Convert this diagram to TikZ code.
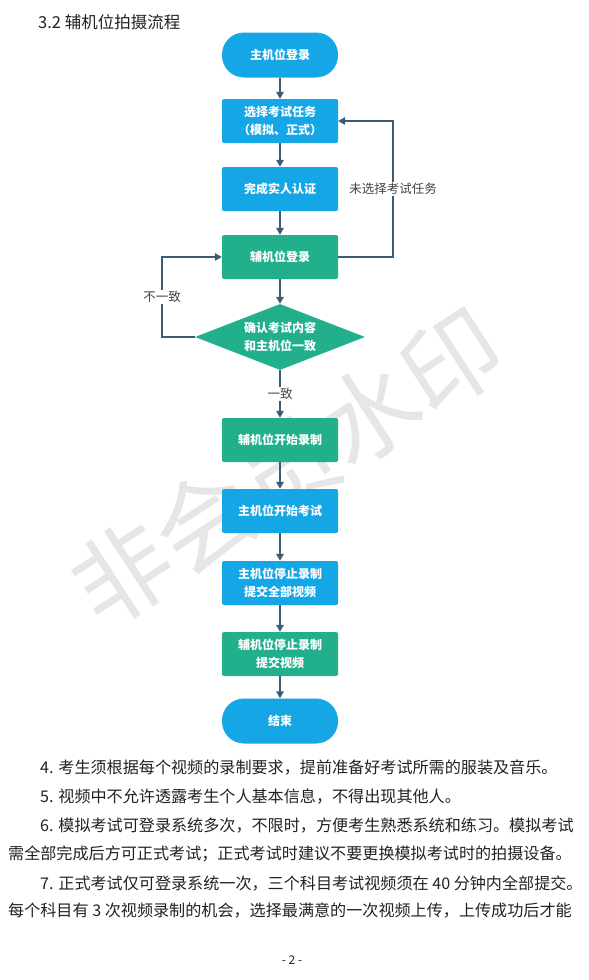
\documentclass[tikz,border=0pt]{standalone}
\usepackage{fontspec}
\setmainfont{Noto Sans CJK SC}
\usetikzlibrary{arrows.meta,shapes.geometric}
\definecolor{fblue}{HTML}{15A6E6}
\definecolor{fgreen}{HTML}{22B08C}
\definecolor{fline}{HTML}{3E5B74}
\definecolor{ftext}{HTML}{222222}
\definecolor{fwater}{HTML}{E6E6E6}
\begin{document}
\begin{tikzpicture}[x=1pt,y=-1pt,
  box/.style={rectangle, rounded corners=2pt, minimum width=116pt, minimum height=44pt,
    text=white, font=\bfseries\fontsize{12}{18}\selectfont, align=center, inner sep=0pt},
  bluebox/.style={box, fill=fblue},
  greenbox/.style={box, fill=fgreen},
  term/.style={bluebox, rounded corners=22pt, minimum height=45pt},
  decide/.style={diamond, fill=fgreen, text=white, aspect=2.6, inner sep=0pt,
    minimum width=170pt, minimum height=66pt, align=center,
    font=\bfseries\fontsize{12}{18}\selectfont},
  arr/.style={draw=fline, line width=1.5pt, -{Triangle[length=7pt,width=7.5pt]}},
  lbl/.style={fill=white, text=ftext!85, font=\fontsize{12.5}{14}\selectfont, inner sep=1.5pt},
  body/.style={anchor=west, font=\fontsize{16.1}{20}\selectfont, text=ftext, inner sep=0pt}
]
\useasboundingbox (0,0) rectangle (589,980);
\fill[white] (0,0) rectangle (589,980);

% watermark
\node[rotate=33, text=fwater, font=\fontsize{98}{98}\selectfont, inner sep=0pt] (wm) at (287,467) {非会员水印};

% title
\node[anchor=west, font=\fontsize{16.5}{20}\selectfont, text=ftext, inner sep=0pt] (title) at (38,22) {3.2 辅机位拍摄流程};

% flowchart nodes
\node[term] (start) at (280,55) {主机位登录};
\node[bluebox] (task) at (280,121) {选择考试任务\\（模拟、正式）};
\node[bluebox] (auth) at (280,189) {完成实人认证};
\node[greenbox] (sub) at (280,257) {辅机位登录};
\node[decide] (dia) at (280,337) {确认考试内容\\和主机位一致};
\node[greenbox] (rec) at (280,440) {辅机位开始录制};
\node[bluebox] (exam) at (280,511) {主机位开始考试};
\node[bluebox] (stopm) at (280,583) {主机位停止录制\\提交全部视频};
\node[greenbox] (stops) at (280,654) {辅机位停止录制\\提交视频};
\node[term] (end) at (280,721) {结束};

% connectors
\draw[arr] (start) -- (task);
\draw[arr] (task) -- (auth);
\draw[arr] (auth) -- (sub);
\draw[arr] (sub) -- (dia);
\draw[arr] (dia.south) -- (rec.north);
\draw[arr] (rec) -- (exam);
\draw[arr] (exam) -- (stopm);
\draw[arr] (stopm) -- (stops);
\draw[arr] (stops) -- (end);
\draw[arr] (sub.east) -- ++(55,0) |- (task.east);
\draw[arr] (dia.west) -- ++(-33,0) |- (sub.west);

% connector labels
\node[lbl] (l1) at (393,189) {未选择考试任务};
\node[lbl] (l2) at (162,297) {不一致};
\node[lbl] (l3) at (280,394) {一致};

% body text
\node[body] (t1) at (40,768) {4. 考生须根据每个视频的录制要求，提前准备好考试所需的服装及音乐。};
\node[body] (t2) at (40,797) {5. 视频中不允许透露考生个人基本信息，不得出现其他人。};
\node[body] (t3) at (40,826) {6. 模拟考试可登录系统多次，不限时，方便考生熟悉系统和练习。模拟考试};
\node[body] (t4) at (8,854) {需全部完成后方可正式考试；正式考试时建议不要更换模拟考试时的拍摄设备。};
\node[body] (t5) at (40,883) {7. 正式考试仅可登录系统一次，三个科目考试视频须在 40 分钟内全部提交。};
\node[body] (t6) at (8,911) {每个科目有 3 次视频录制的机会，选择最满意的一次视频上传，上传成功后才能};
\node[font=\fontsize{12}{14}\selectfont, text=ftext, inner sep=0pt] (pg) at (292,960) {- 2 -};
\end{tikzpicture}
\end{document}
